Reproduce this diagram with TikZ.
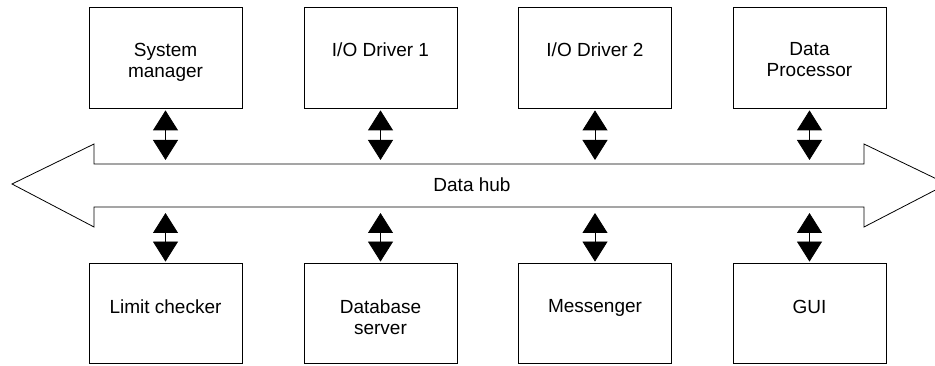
\documentclass[tikz,border=0pt]{standalone}
\usepackage{fontspec}
\setmainfont{Liberation Sans}
\usetikzlibrary{arrows.meta}

\tikzset{
  module/.style={draw=black, line width=0.8pt, fill=white, minimum width=153pt, inner sep=0pt},
  topmodule/.style={module, minimum height=101pt},
  botmodule/.style={module, minimum height=100pt},
  caption/.style={anchor=north, inner sep=0pt, align=center, font=\fontsize{19}{21}\selectfont},
  link/.style={line width=0.8pt, {Triangle[width=25pt,length=20pt]}-{Triangle[width=25pt,length=20pt]}},
  bus/.style={draw=black, line width=0.8pt, fill=white, line join=miter}
}

\begin{document}
\begin{tikzpicture}[x=1pt,y=-1pt]
  \useasboundingbox (0,0) rectangle (935,366);
  \clip (0,0) rectangle (935,366);

  % shared data bus: a two-headed hollow arrow
  \draw[bus] (12,184) -- (94,144) -- (94,164) -- (864,164) -- (864,144)
             -- (947,184) -- (864,227) -- (864,207) -- (94,207) -- (94,227) -- cycle;
  \node[font=\fontsize{19}{21}\selectfont] (hub) at (472,185) {Data hub};
  \coordinate (hubN) at (472,164);
  \coordinate (hubS) at (472,207);

  % modules above the bus
  \node[topmodule] (sm)  at (165.5,57.5) {};
  \node[topmodule] (io1) at (380.5,57.5) {};
  \node[topmodule] (io2) at (595,57.5) {};
  \node[topmodule] (dp)  at (809.5,57.5) {};
  \node[caption] (smt)  at ([yshift=-36pt]sm.north)  {System\\manager};
  \node[caption] (io1t) at ([yshift=-36pt]io1.north) {I/O Driver 1};
  \node[caption] (io2t) at ([yshift=-36pt]io2.north) {I/O Driver 2};
  \node[caption] (dpt)  at ([yshift=-36pt]dp.north)  {Data\\Processor};

  % modules below the bus
  \node[botmodule] (lc)  at (165.5,313) {};
  \node[botmodule] (db)  at (380.5,313) {};
  \node[botmodule] (msg) at (595,313) {};
  \node[botmodule] (gui) at (809.5,313) {};
  \node[caption] (lct)  at ([yshift=-37pt]lc.north)  {Limit checker};
  \node[caption] (dbt)  at ([yshift=-37pt]db.north)  {Database\\server};
  \node[caption] (msgt) at ([yshift=-37pt]msg.north) {Messenger};
  \node[caption] (guit) at ([yshift=-37pt]gui.north) {GUI};

  % bidirectional links to the bus
  \foreach \m in {sm,io1,io2,dp}
    \draw[link] ([yshift=-2pt]\m.south) -- ([yshift=4pt]\m.south |- hubN);
  \foreach \m in {lc,db,msg,gui}
    \draw[link] ([yshift=-6pt]\m.north |- hubS) -- ([yshift=1pt]\m.north);
\end{tikzpicture}
\end{document}
